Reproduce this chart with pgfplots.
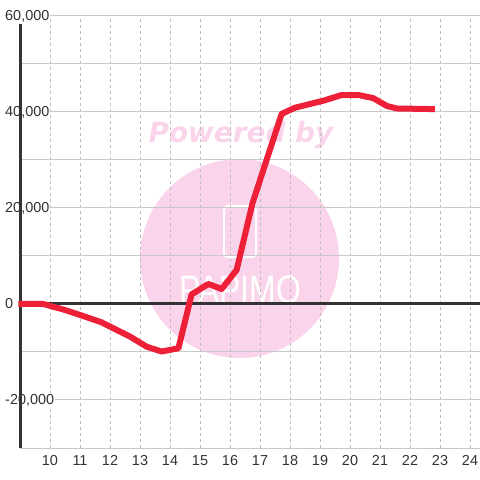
\documentclass[border=0pt]{standalone}
\usepackage{fontspec}
\setmainfont{Liberation Sans}
\newfontfamily\wmfont{DejaVu Sans}
\usepackage{pgfplots}
\pgfplotsset{compat=1.18}

\definecolor{lineRed}{RGB}{238,32,56}
\definecolor{axisDark}{RGB}{51,51,51}
\definecolor{gridGray}{RGB}{200,200,200}
\definecolor{dotGray}{RGB}{190,190,190}
\definecolor{wmPink}{RGB}{250,212,235}

\begin{document}
\begin{tikzpicture}
% page frame: 480 x 480, axis box from (20,32) to (480,464) in page bp
\path[use as bounding box] (-20bp,-32bp) rectangle (460bp,448bp);

% watermark behind everything
\fill[wmPink] (219.5bp,189.5bp) circle (99.5bp);
\node[text=wmPink, font=\wmfont\bfseries\itshape\fontsize{28}{30}\selectfont]
  at (221bp,313bp) {Powered by};
\draw[white, line width=2bp, rounded corners=4bp] (204bp,191bp) rectangle (236bp,242bp);
\node[text=white, font=\fontsize{40}{40}\selectfont, xscale=0.8]
  at (220bp,158bp) {PAPIMO};

\begin{axis}[
    scale only axis,
    width=460bp, height=432bp,
    xmin=9, xmax=24.333,
    ymin=-30000, ymax=60000,
    clip=false,
    axis line style={draw=none},
    xtick={10,...,24},
    ytick={-20000,0,20000,40000,60000},
    minor ytick={-30000,-10000,10000,30000,50000},
    scaled y ticks=false,
    major tick length=0pt, minor tick length=0pt,
    xmajorgrids, ymajorgrids, yminorgrids,
    x grid style={dotGray, line width=1bp, dash pattern=on 3bp off 3bp},
    y grid style={gridGray, line width=1bp},
    minor y grid style={gridGray, line width=1bp},
    /pgf/number format/assume math mode=true,
    /pgf/number format/.cd, 1000 sep={,}, /pgfplots/.cd,
    tick label style={text=axisDark, font=\fontsize{14.5}{16}\selectfont},
    xticklabel style={anchor=north, inner sep=0pt, yshift=-7bp},
    yticklabel style={anchor=west, inner sep=1bp, fill=white, xshift=-16bp},
]
% zero line and left axis line
\draw[axisDark, line width=3bp] (axis cs:9,0) -- (axis cs:24.333,0);
\draw[axisDark, line width=3bp] (axis cs:9,-30000) -- (axis cs:9,58333);

\addplot[lineRed, line width=6bp, line join=round, no marks] coordinates {
(8.95,0) (9.78,0) (10.50,-1250) (11.17,-2640) (11.72,-3820) (12.67,-6800)
(13.22,-8890) (13.72,-9900) (14.28,-9230) (14.72,2000) (15.28,4170)
(15.72,3130) (16.22,7080) (16.75,21000) (17.72,39600) (18.17,40900)
(19.11,42350) (19.72,43540) (20.28,43540) (20.77,42900) (21.23,41250)
(21.57,40730) (22.83,40600)
};
\end{axis}
\end{tikzpicture}
\end{document}
